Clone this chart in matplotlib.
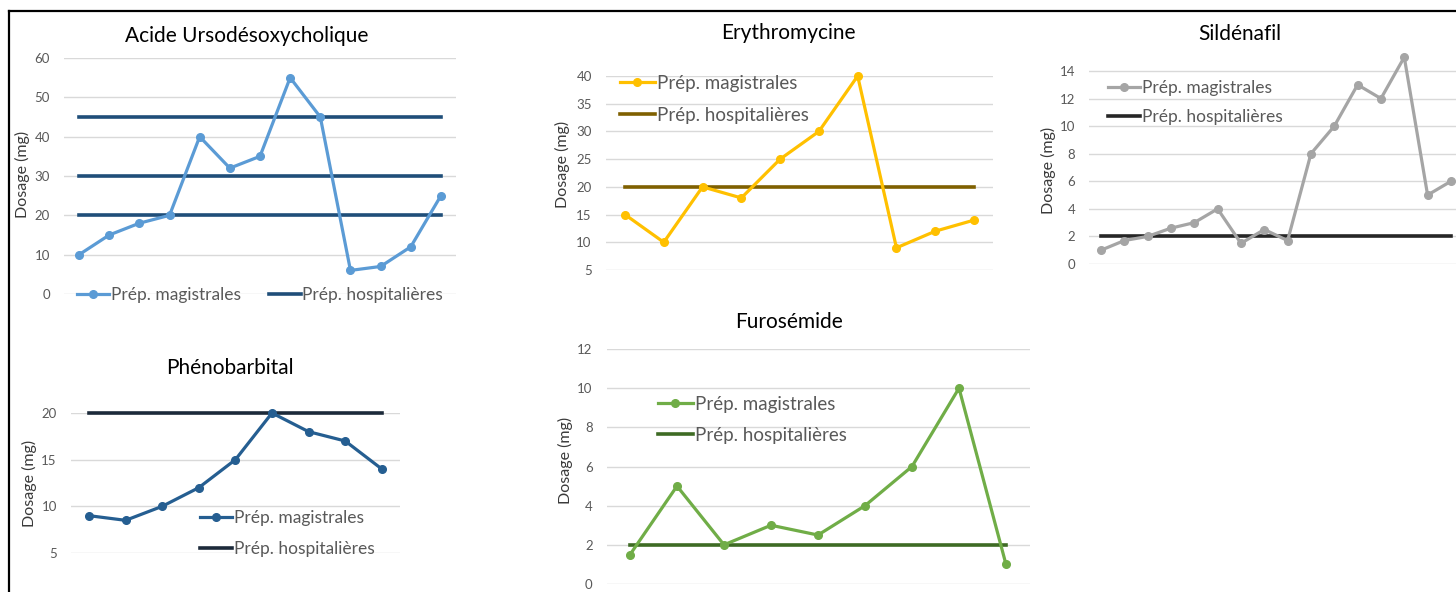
import numpy as np
import matplotlib.pyplot as plt
from matplotlib.lines import Line2D

plt.rcParams['font.family'] = ['Lato', 'DejaVu Sans']

W, H = 1456, 592

# data
acide_mag = [10, 15, 18, 20, 40, 32, 35, 55, 45, 6, 7, 12, 25]
acide_hosp = [45, 30, 20]
erythro_mag = [15, 10, 20, 18, 25, 30, 40, 9, 12, 14]
erythro_hosp = [20]
silde_mag = [1, 1.7, 2, 2.6, 3, 4, 1.5, 2.5, 1.7, 8, 10, 13, 12, 15, 5, 6]
silde_hosp = [2]
pheno_mag = [9, 8.5, 10, 12, 15, 20, 18, 17, 14]
pheno_hosp = [20]
furo_mag = [1.5, 5, 2, 3, 2.5, 4, 6, 10, 1]
furo_hosp = [2]

lab_mag = 'Prép. magistrales'
lab_hosp = 'Prép. hospitalières'

fig = plt.figure(figsize=(W / 100, H / 100), dpi=100)


def px_axes(left, top, right, bottom):
    return fig.add_axes([left / W, 1 - bottom / H, (right - left) / W, (bottom - top) / H])


def chart(box, mag, hosp, c_mag, c_hosp, ylim, yticks, title, title_xy, ylab_xy):
    ax = px_axes(*box)
    x = np.arange(len(mag))
    for t in yticks:
        ax.axhline(t, color='#d9d9d9', lw=1.0, zorder=0)
    ax.plot(x, mag, '-o', color=c_mag, lw=2.3, ms=5.5, label=lab_mag, clip_on=False, zorder=3)
    for i, h in enumerate(hosp):
        ax.plot([x[0], x[-1]], [h, h], color=c_hosp, lw=2.6, clip_on=False, zorder=2,
                label=lab_hosp if i == 0 else None)
    ax.set_xlim(-0.5, len(mag) - 0.5)
    ax.set_ylim(*ylim)
    ax.set_yticks(yticks)
    ax.set_xticks([])
    ax.tick_params(axis='y', length=0, pad=10, labelsize=9.5, labelcolor='#595959')
    for s in ax.spines.values():
        s.set_visible(False)
    fig.text(title_xy[0] / W, 1 - title_xy[1] / H, title, ha='center', va='center',
             fontsize=15, color='#000000')
    fig.text(ylab_xy[0] / W, 1 - ylab_xy[1] / H, 'Dosage (mg)', rotation=90, ha='center',
             va='center', fontsize=11.5, color='#3a3a3a')
    return ax


def legend(ax, xy, ncol=1, fs=12.5, spacing=0.5):
    ax.legend(loc='upper left', bbox_to_anchor=(xy[0] / W, 1 - xy[1] / H),
              bbox_transform=fig.transFigure, frameon=False, ncol=ncol, fontsize=fs,
              handlelength=1.85, handletextpad=0.1, borderpad=0, borderaxespad=0,
              labelspacing=spacing, columnspacing=1.6, labelcolor='#595959')


a1 = chart((64, 58, 456, 294), acide_mag, acide_hosp, '#5b9bd5', '#1f4e79',
           (0, 60), [0, 10, 20, 30, 40, 50, 60], 'Acide Ursodésoxycholique', (247, 36), (22, 174))
legend(a1, (77, 287), ncol=2, fs=12.5)

a2 = chart((605.6, 76, 993.4, 270), erythro_mag, erythro_hosp, '#ffc000', '#7f6000',
           (5, 40), [5, 10, 15, 20, 25, 30, 35, 40], 'Erythromycine', (788, 33), (562, 164))
legend(a2, (620, 75), fs=13.5, spacing=0.8)

a3 = chart((1089.3, 43.4, 1462.6, 264), silde_mag, silde_hosp, '#a5a5a5', '#262626',
           (0, 16), [0, 2, 4, 6, 8, 10, 12, 14], 'Sildénafil', (1240, 34), (1048, 170))
legend(a3, (1108, 80), fs=12.5, spacing=0.75)

a4 = chart((70.7, 413, 400.1, 553), pheno_mag, pheno_hosp, '#255e91', '#1c2a3a',
           (5, 20), [5, 10, 15, 20], 'Phénobarbital', (230, 368), (29, 483))
legend(a4, (200, 510), fs=12.5, spacing=0.86)

a5 = chart((606.5, 349, 1029.5, 584), furo_mag, furo_hosp, '#70ad47', '#3e6b24',
           (0, 12), [0, 2, 4, 6, 8, 10, 12], 'Furosémide', (789, 322), (565, 460))
legend(a5, (658, 396), fs=13.5, spacing=0.72)

# black frame around the screenshot
fig.add_artist(Line2D([8.5 / W, 8.5 / W], [0, 1 - 10.5 / H], color='black', lw=1.6))
fig.add_artist(Line2D([8.5 / W, 1], [1 - 10.5 / H, 1 - 10.5 / H], color='black', lw=1.6))

fig.savefig('out.png', dpi=100)
